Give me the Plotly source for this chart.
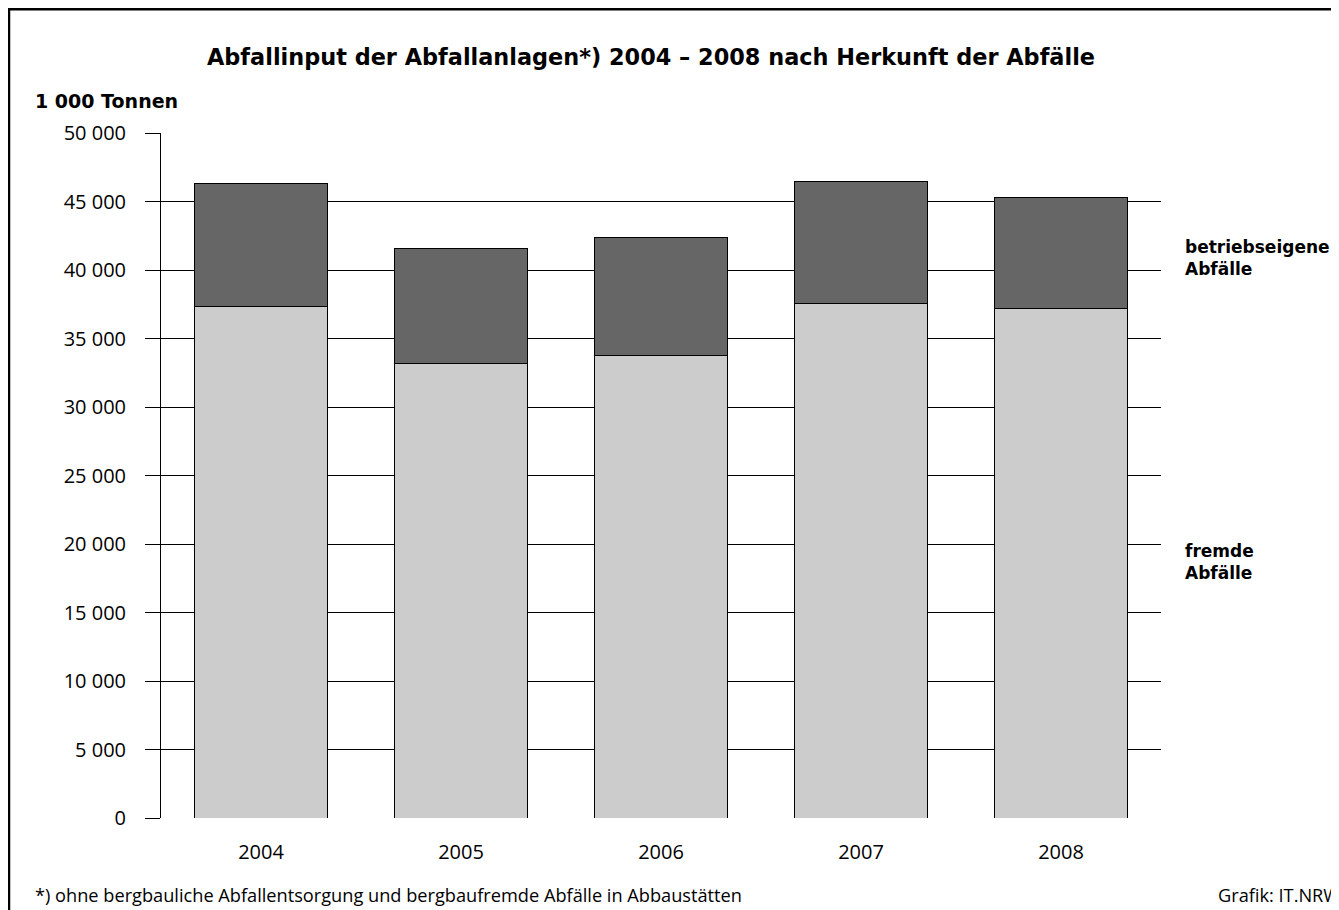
import plotly.graph_objects as go

years = ["2004", "2005", "2006", "2007", "2008"]
fremde = [37330, 33210, 33750, 37550, 37200]
betriebseigene = [9020, 8390, 8640, 8920, 8060]
ytick_vals = [0, 5000, 10000, 15000, 20000, 25000, 30000, 35000, 40000, 45000, 50000]
ytick_text = ["0", "5 000", "10 000", "15 000", "20 000", "25 000", "30 000",
              "35 000", "40 000", "45 000", "50 000"]

FONT = "Open Sans"
BOLD = "DejaVu Sans"
OFF = 8  # page body margin

fig = go.Figure()
fig.add_trace(go.Bar(x=years, y=fremde, name="fremde Abfälle",
                     marker=dict(color="#cccccc", line=dict(color="#000000", width=1))))
fig.add_trace(go.Bar(x=years, y=betriebseigene, name="betriebseigene Abfälle",
                     marker=dict(color="#666666", line=dict(color="#000000", width=1))))

W, H = 1339 - OFF, 910 - OFF
L, R, T, B = 161 - OFF, 1161 - OFF, 132.7 - OFF, 817.7 - OFF

def px(x):
    return (x - OFF - L) / (R - L)

def py(y):
    return (B - (y - OFF)) / (B - T)

fig.update_layout(
    width=W, height=H,
    barmode="stack", bargap=0.335,
    showlegend=False,
    paper_bgcolor="white", plot_bgcolor="white",
    margin=dict(l=L, r=W - R, t=T, b=H - B, pad=0),
    font=dict(family=FONT, size=20, color="#000000"),
    xaxis=dict(showgrid=False, showline=False, ticks="", zeroline=False,
               tickfont=dict(size=20), ticklabelstandoff=20),
    yaxis=dict(range=[0, 50000], tickvals=ytick_vals, ticktext=ytick_text,
               showgrid=True, gridcolor="#000000", gridwidth=1,
               showline=True, linecolor="#000000", linewidth=1,
               ticks="outside", ticklen=15, tickcolor="#000000", tickwidth=1,
               zeroline=False, tickfont=dict(size=20), ticklabelstandoff=15),
)

annotations = [
    dict(text="<b>Abfallinput der Abfallanlagen*) 2004 – 2008 nach Herkunft der Abfälle</b>",
         x=px(651), y=py(57), xanchor="center", yanchor="middle",
         font=dict(family=BOLD, size=22.4)),
    dict(text="<b>1 000 Tonnen</b>", x=px(33), y=py(101), xanchor="left", yanchor="middle",
         font=dict(family=BOLD, size=19)),
    dict(text="<b>betriebseigene<br>Abfälle</b>", x=px(1183), y=py(258), xanchor="left",
         yanchor="middle", align="left", font=dict(family=BOLD, size=17)),
    dict(text="<b>fremde<br>Abfälle</b>", x=px(1183), y=py(562), xanchor="left",
         yanchor="middle", align="left", font=dict(family=BOLD, size=17)),
    dict(text="*) ohne bergbauliche Abfallentsorgung und bergbaufremde Abfälle in Abbaustätten",
         x=px(33), y=py(895), xanchor="left", yanchor="middle", font=dict(size=18.2)),
    dict(text="Grafik: IT.NRW", x=px(1342), y=py(895), xanchor="right", yanchor="middle",
         font=dict(size=18.2)),
]
for a in annotations:
    a.update(xref="paper", yref="paper", showarrow=False)
fig.update_layout(annotations=annotations)

fig.add_shape(type="rect", xref="paper", yref="paper",
              x0=px(9), x1=px(1360), y0=py(9), y1=py(930),
              line=dict(color="#000000", width=2.5), fillcolor="rgba(0,0,0,0)", layer="above")

fig.write_html("out.html")
